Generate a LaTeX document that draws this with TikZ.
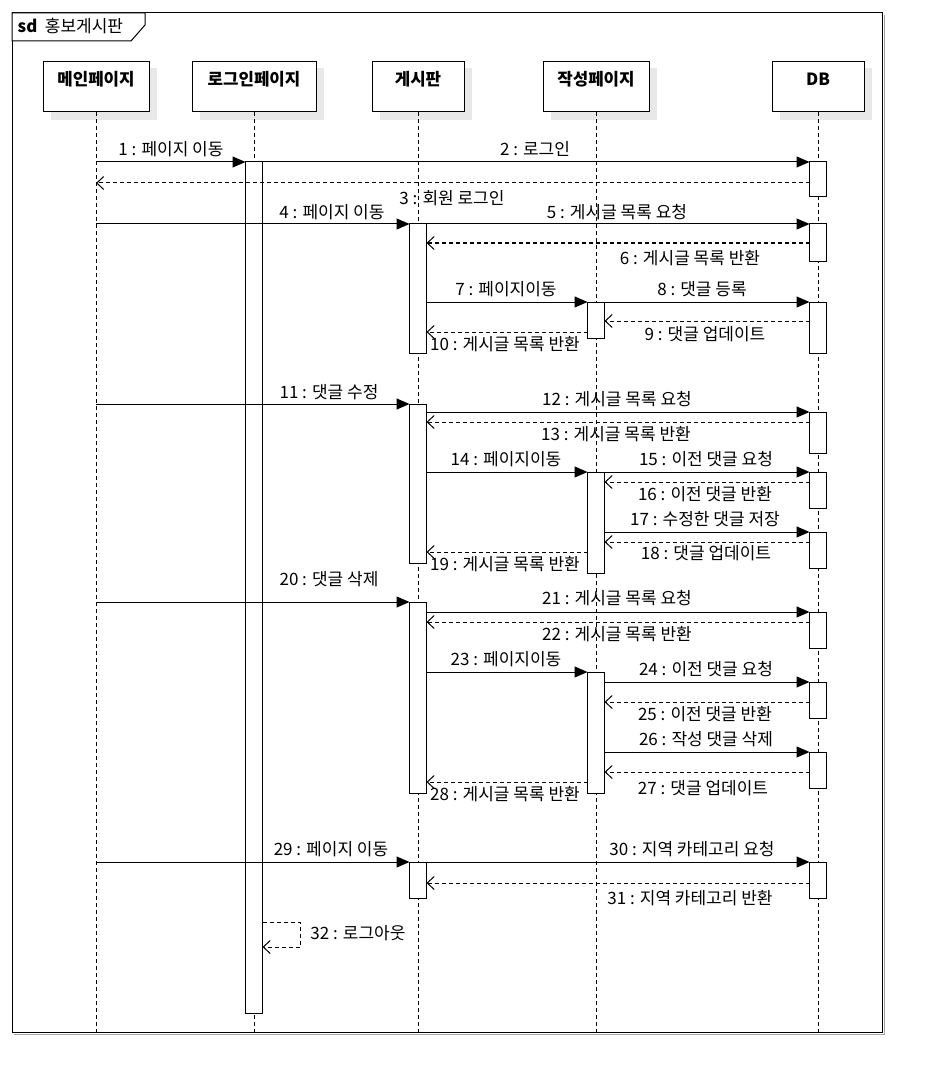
\documentclass[tikz,border=0pt]{standalone}
\usepackage{fontspec}
\setmainfont{Noto Sans CJK KR}
\usetikzlibrary{arrows.meta}
\tikzset{
  every node/.style={font=\fontsize{17}{20}\selectfont},
  head/.style={draw, fill=white, line width=1pt, minimum height=50pt, inner sep=0pt, outer sep=0pt},
  headtxt/.style={font=\fontsize{16.8}{20}\selectfont\bfseries, inner sep=0pt},
  life/.style={line width=0.9pt, dash pattern=on 4pt off 3pt},
  act/.style={draw, fill=white, line width=1pt, minimum width=17pt, inner sep=0pt, outer sep=0pt},
  msg/.style={line width=1pt, -{Triangle[length=13pt,width=11pt]}},
  ret/.style={line width=1pt, dash pattern=on 4pt off 3pt, -{Straight Barb[length=7pt,width=13pt,line width=1pt]}},
  lbl/.style={inner sep=0pt},
}
\begin{document}
\begin{tikzpicture}[x=1pt,y=-1pt]
\useasboundingbox (0,0) rectangle (933,1083);
\fill[white] (0,0) rectangle (933,1083);
% frame
\draw[black!35, line width=1pt] (884,15) -- (884,1034) -- (14,1034);
\draw[line width=1pt] (12,13) rectangle (882,1032);
\draw[line width=1pt, fill=white] (12,13) -- (145,13) -- (145,25) -- (131,41) -- (12,41) -- cycle;
\node[font=\fontsize{16.8}{20}\selectfont\bfseries, inner sep=0pt] (sd) at (27.5,26) {sd};
\node[font=\fontsize{17}{20}\selectfont, inner sep=0pt] (sdname) at (84,26) {홍보게시판};

% head shadows
\foreach \xa/\xb in {43/149, 192/316, 372/464, 543/649, 772/864}{
  \fill[black!9] (\xb,68) rectangle (\xb+8,120);
  \fill[black!9] (\xa+8,112) rectangle (\xb+8,120);
}
% lifeline heads
\node[head, minimum width=106pt] (main) at (96,87) {};
\node[head, minimum width=124pt] (login) at (254,87) {};
\node[head, minimum width=92pt] (board) at (418,87) {};
\node[head, minimum width=106pt] (write) at (596,87) {};
\node[head, minimum width=92pt] (db) at (818,87) {};
\node[headtxt] (mainT) at (96,79) {메인페이지};
\node[headtxt] (loginT) at (254,79) {로그인페이지};
\node[headtxt] (boardT) at (418,79) {게시판};
\node[headtxt] (writeT) at (596,79) {작성페이지};
\node[headtxt] (dbT) at (818,79) {DB};

% lifelines
\foreach \n in {main,login,board,write,db}{
  \draw[life] (\n.south) -- (\n.south |- 0,1032);
}

% activations
\node[act, minimum height=851pt] (la) at (254,587.5) {};
\node[act, minimum height=129pt] (ba1) at (418,288.5) {};
\node[act, minimum height=159pt] (ba2) at (418,483.5) {};
\node[act, minimum height=191pt] (ba3) at (418,697.5) {};
\node[act, minimum height=36pt] (ba4) at (418,880) {};
\node[act, minimum height=36pt] (wa1) at (596,320) {};
\node[act, minimum height=101pt] (wa2) at (596,522.5) {};
\node[act, minimum height=121pt] (wa3) at (596,732.5) {};
\node[act, minimum height=35pt] (da1) at (818,179.5) {};
\node[act, minimum height=37pt] (da2) at (818,242.5) {};
\node[act, minimum height=51pt] (da3) at (818,327.5) {};
\node[act, minimum height=41pt] (da4) at (818,432.5) {};
\node[act, minimum height=36pt] (da5) at (818,490) {};
\node[act, minimum height=36pt] (da6) at (818,550) {};
\node[act, minimum height=36pt] (da7) at (818,630) {};
\node[act, minimum height=36pt] (da8) at (818,700) {};
\node[act, minimum height=36pt] (da9) at (818,770) {};
\node[act, minimum height=36pt] (da10) at (818,880) {};

% messages
\draw[msg] (main |- 0,162) -- (la.west |- 0,162);
\draw[msg] (la.east |- 0,162) -- (da1.west |- 0,162);
\draw[ret] (da1.west |- 0,183) -- (main |- 0,183);
\draw[msg] (main |- 0,224) -- (ba1.west |- 0,224);
\draw[msg] (ba1.east |- 0,224) -- (da2.west |- 0,224);
\draw[ret] (da2.west |- 0,243) -- (ba1.east |- 0,243);
\draw[msg] (ba1.east |- 0,302) -- (wa1.west |- 0,302);
\draw[msg] (wa1.east |- 0,302) -- (da3.west |- 0,302);
\draw[ret] (da3.west |- 0,321) -- (wa1.east |- 0,321);
\draw[ret] (wa1.west |- 0,332) -- (ba1.east |- 0,332);
\draw[msg] (main |- 0,404) -- (ba2.west |- 0,404);
\draw[msg] (ba2.east |- 0,412) -- (da4.west |- 0,412);
\draw[ret] (da4.west |- 0,422) -- (ba2.east |- 0,422);
\draw[msg] (ba2.east |- 0,472) -- (wa2.west |- 0,472);
\draw[msg] (wa2.east |- 0,472) -- (da5.west |- 0,472);
\draw[ret] (da5.west |- 0,482) -- (wa2.east |- 0,482);
\draw[msg] (wa2.east |- 0,532) -- (da6.west |- 0,532);
\draw[ret] (da6.west |- 0,542) -- (wa2.east |- 0,542);
\draw[ret] (wa2.west |- 0,552) -- (ba2.east |- 0,552);
\draw[msg] (main |- 0,602) -- (ba3.west |- 0,602);
\draw[msg] (ba3.east |- 0,612) -- (da7.west |- 0,612);
\draw[ret] (da7.west |- 0,622) -- (ba3.east |- 0,622);
\draw[msg] (ba3.east |- 0,672) -- (wa3.west |- 0,672);
\draw[msg] (wa3.east |- 0,682) -- (da8.west |- 0,682);
\draw[ret] (da8.west |- 0,702) -- (wa3.east |- 0,702);
\draw[msg] (wa3.east |- 0,752) -- (da9.west |- 0,752);
\draw[ret] (da9.west |- 0,772) -- (wa3.east |- 0,772);
\draw[ret] (wa3.west |- 0,782) -- (ba3.east |- 0,782);
\draw[msg] (main |- 0,862) -- (ba4.west |- 0,862);
\draw[msg] (ba4.east |- 0,862) -- (da10.west |- 0,862);
\draw[ret] (da10.west |- 0,883) -- (ba4.east |- 0,883);
\coordinate (s32a) at (300,922);
\coordinate (s32b) at (300,947);
\draw[ret] (la.east |- s32a) -- (s32a) -- (s32b) -- (la.east |- s32b);

% labels
\node[lbl] (t1) at (171,149) {1 : 페이지 이동};
\node[lbl] (t2) at (535,149) {2 : 로그인};
\node[lbl] (t3) at (452,198) {3 : 회원 로그인};
\node[lbl] (t4) at (332,212) {4 : 페이지 이동};
\node[lbl] (t5) at (617,212) {5 : 게시글 목록 요청};
\node[lbl] (t6) at (690,258) {6 : 게시글 목록 반환};
\node[lbl] (t7) at (506,289) {7 : 페이지이동};
\node[lbl] (t8) at (702,289) {8 : 댓글 등록};
\node[lbl] (t9) at (705,334) {9 : 댓글 업데이트};
\node[lbl] (t10) at (505,344) {10 : 게시글 목록 반환};
\node[lbl] (t11) at (329,392) {11 : 댓글 수정};
\node[lbl] (t12) at (617,399) {12 : 게시글 목록 요청};
\node[lbl] (t13) at (616,434) {13 : 게시글 목록 반환};
\node[lbl] (t14) at (506,459) {14 : 페이지이동};
\node[lbl] (t15) at (706,459) {15 : 이전 댓글 요청};
\node[lbl] (t16) at (705,494) {16 : 이전 댓글 반환};
\node[lbl] (t17) at (705,519) {17 : 수정한 댓글 저장};
\node[lbl] (t18) at (706,553) {18 : 댓글 업데이트};
\node[lbl] (t19) at (505,564) {19 : 게시글 목록 반환};
\node[lbl] (t20) at (329,579) {20 : 댓글 삭제};
\node[lbl] (t21) at (617,598) {21 : 게시글 목록 요청};
\node[lbl] (t22) at (617,634) {22 : 게시글 목록 반환};
\node[lbl] (t23) at (506,659) {23 : 페이지이동};
\node[lbl] (t24) at (706,669) {24 : 이전 댓글 요청};
\node[lbl] (t25) at (705,714) {25 : 이전 댓글 반환};
\node[lbl] (t26) at (706,739) {26 : 작성 댓글 삭제};
\node[lbl] (t27) at (703,788) {27 : 댓글 업데이트};
\node[lbl] (t28) at (505,794) {28 : 게시글 목록 반환};
\node[lbl] (t29) at (331,849) {29 : 페이지 이동};
\node[lbl] (t30) at (692,849) {30 : 지역 카테고리 요청};
\node[lbl] (t31) at (690,898) {31 : 지역 카테고리 반환};
\node[lbl] (t32) at (358,933) {32 : 로그아웃};
\end{tikzpicture}
\end{document}
